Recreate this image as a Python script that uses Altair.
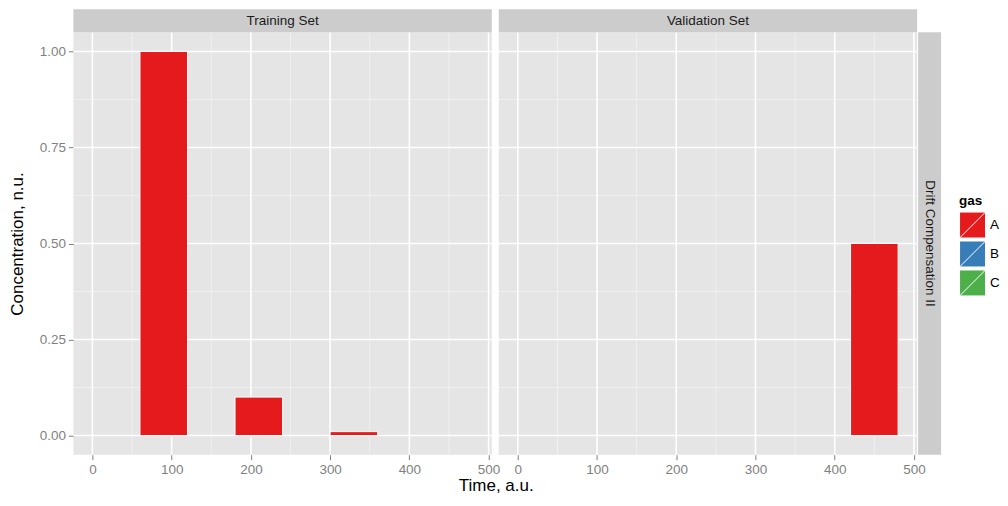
import altair as alt
import pandas as pd

# ---- data ----
bin_start = [0, 60, 120, 180, 240, 300, 360, 420]
bin_end = [60, 120, 180, 240, 300, 360, 420, 480]
training_A = [0, 1.0, 0, 0.1, 0, 0.01, 0, 0]
validation_A = [0, 0, 0, 0, 0, 0, 0, 0.5]
gases = ["A", "B", "C"]
gas_colors = ["#E41A1C", "#377EB8", "#4DAF4A"]
x_major = [0, 100, 200, 300, 400, 500]
x_minor = [50, 150, 250, 350, 450]
y_major = [0, 0.25, 0.5, 0.75, 1.0]
y_minor = [0.125, 0.375, 0.625, 0.875]
panel_titles = ["Training Set", "Validation Set"]
row_title = "Drift Compensation II"

FONT = "Liberation Sans"
W, H = 419, 423
XDOM = [-24, 504]
YDOM = [-0.05, 1.05]
STRIP = 23

xs = alt.Scale(domain=XDOM, nice=False, zero=False)
ys = alt.Scale(domain=YDOM, nice=False, zero=False)
cs = alt.Scale(domain=gases, range=gas_colors)

xaxis_common = dict(values=x_major, grid=False, domain=False, ticks=True, tickColor="#7F7F7F",
                    tickSize=5, tickWidth=1, labelColor="#7F7F7F", labelFont=FONT,
                    labelFontSize=13.5, labelPadding=3, format="d")

xaxis1 = alt.Axis(title="Time, a.u.", titleX=423, titleY=31, titleBaseline="middle",
                  titleFont=FONT, titleFontSize=17, titleFontWeight="normal",
                  titleColor="black", **xaxis_common)
yaxis1 = alt.Axis(title="Concentration, n.u.", values=y_major, format=".2f", grid=False,
                  domain=False, tickColor="#7F7F7F", tickSize=5, tickWidth=1,
                  labelColor="#7F7F7F", labelFont=FONT, labelFontSize=13.5, labelPadding=3,
                  titleFont=FONT, titleFontSize=17, titleFontWeight="normal",
                  titleColor="black", titleX=-56, titleY=H / 2, titleBaseline="middle")
xaxis2 = alt.Axis(title=None, **xaxis_common)
yaxis2 = None


def bars_df(vals):
    return pd.DataFrame({"start": bin_start, "end": bin_end, "value": vals,
                         "base": [0] * len(vals), "gas": ["A"] * len(vals)})


def grid_layers(xa, ya):
    xmin = alt.Chart(pd.DataFrame({"x": x_minor})).mark_rule(color="#F2F2F2", strokeWidth=0.8).encode(
        x=alt.X("x:Q", scale=xs, axis=xa))
    ymin = alt.Chart(pd.DataFrame({"y": y_minor})).mark_rule(color="#F2F2F2", strokeWidth=0.8).encode(
        y=alt.Y("y:Q", scale=ys, axis=ya))
    xmaj = alt.Chart(pd.DataFrame({"x": x_major})).mark_rule(color="white", strokeWidth=1.6).encode(
        x=alt.X("x:Q", scale=xs, axis=xa))
    ymaj = alt.Chart(pd.DataFrame({"y": y_major})).mark_rule(color="white", strokeWidth=1.6).encode(
        y=alt.Y("y:Q", scale=ys, axis=ya))
    return [xmin, ymin, xmaj, ymaj]


def strip_top(title):
    d = pd.DataFrame({"t": [title]})
    r = alt.Chart(d).mark_rect(fill="#CCCCCC").encode(
        x=alt.value(0), x2=alt.value(W), y=alt.value(-STRIP), y2=alt.value(0))
    t = alt.Chart(d).mark_text(font=FONT, fontSize=13.5, color="#1A1A1A", baseline="middle").encode(
        x=alt.value(W / 2), y=alt.value(-STRIP / 2), text="t:N")
    return [r, t]


# Panel 1
b1 = alt.Chart(bars_df(training_A)).mark_rect(stroke="white", strokeWidth=1).encode(
    x=alt.X("start:Q", scale=xs, axis=xaxis1),
    x2="end:Q",
    y=alt.Y("base:Q", scale=ys, axis=yaxis1),
    y2="value:Q",
    fill=alt.Fill("gas:N", scale=cs, legend=None),
)
panel1 = alt.layer(*grid_layers(xaxis1, yaxis1), b1, *strip_top(panel_titles[0])).properties(
    width=W, height=H)

# Panel 2
b2 = alt.Chart(bars_df(validation_A)).mark_rect(stroke="white", strokeWidth=1).encode(
    x=alt.X("start:Q", scale=xs, axis=xaxis2),
    x2="end:Q",
    y=alt.Y("base:Q", scale=ys, axis=yaxis2),
    y2="value:Q",
    fill=alt.Fill("gas:N", scale=cs, legend=alt.Legend(
        title="gas", orient="none", legendX=461, legendY=162,
        titleFont=FONT, titleFontSize=13.5, titleFontWeight="bold", titleColor="black",
        titlePadding=4,
        labelFont=FONT, labelFontSize=13.5, labelColor="black", labelOffset=4,
        symbolType="M-1,-1H1V1H-1Z M-1,1L1,-1", symbolSize=676,
        symbolStrokeColor="white", symbolStrokeWidth=1, symbolOpacity=1,
        rowPadding=-6)),
)
rd = pd.DataFrame({"t": [row_title]})
rs_rect = alt.Chart(rd).mark_rect(fill="#CCCCCC").encode(
    x=alt.value(W + 1), x2=alt.value(W + 1 + STRIP), y=alt.value(0), y2=alt.value(H))
rs_text = alt.Chart(rd).mark_text(font=FONT, fontSize=13.5, color="#1A1A1A", angle=90,
                                  baseline="middle").encode(
    x=alt.value(W + 1 + STRIP / 2), y=alt.value(H / 2), text="t:N")
panel2 = alt.layer(*grid_layers(xaxis2, yaxis2), b2, *strip_top(panel_titles[1]),
                   rs_rect, rs_text).properties(width=W, height=H)

chart = alt.hconcat(panel1, panel2, spacing=7, bounds="flush").resolve_scale(
    fill="independent", x="independent", y="independent"
).properties(
    padding={"left": 0.5, "top": 1, "right": 0, "bottom": 0}
).configure(background="white").configure_view(fill="#E5E5E5", stroke=None)

chart.save("out.html", embed_options={"renderer": "svg", "actions": False})
